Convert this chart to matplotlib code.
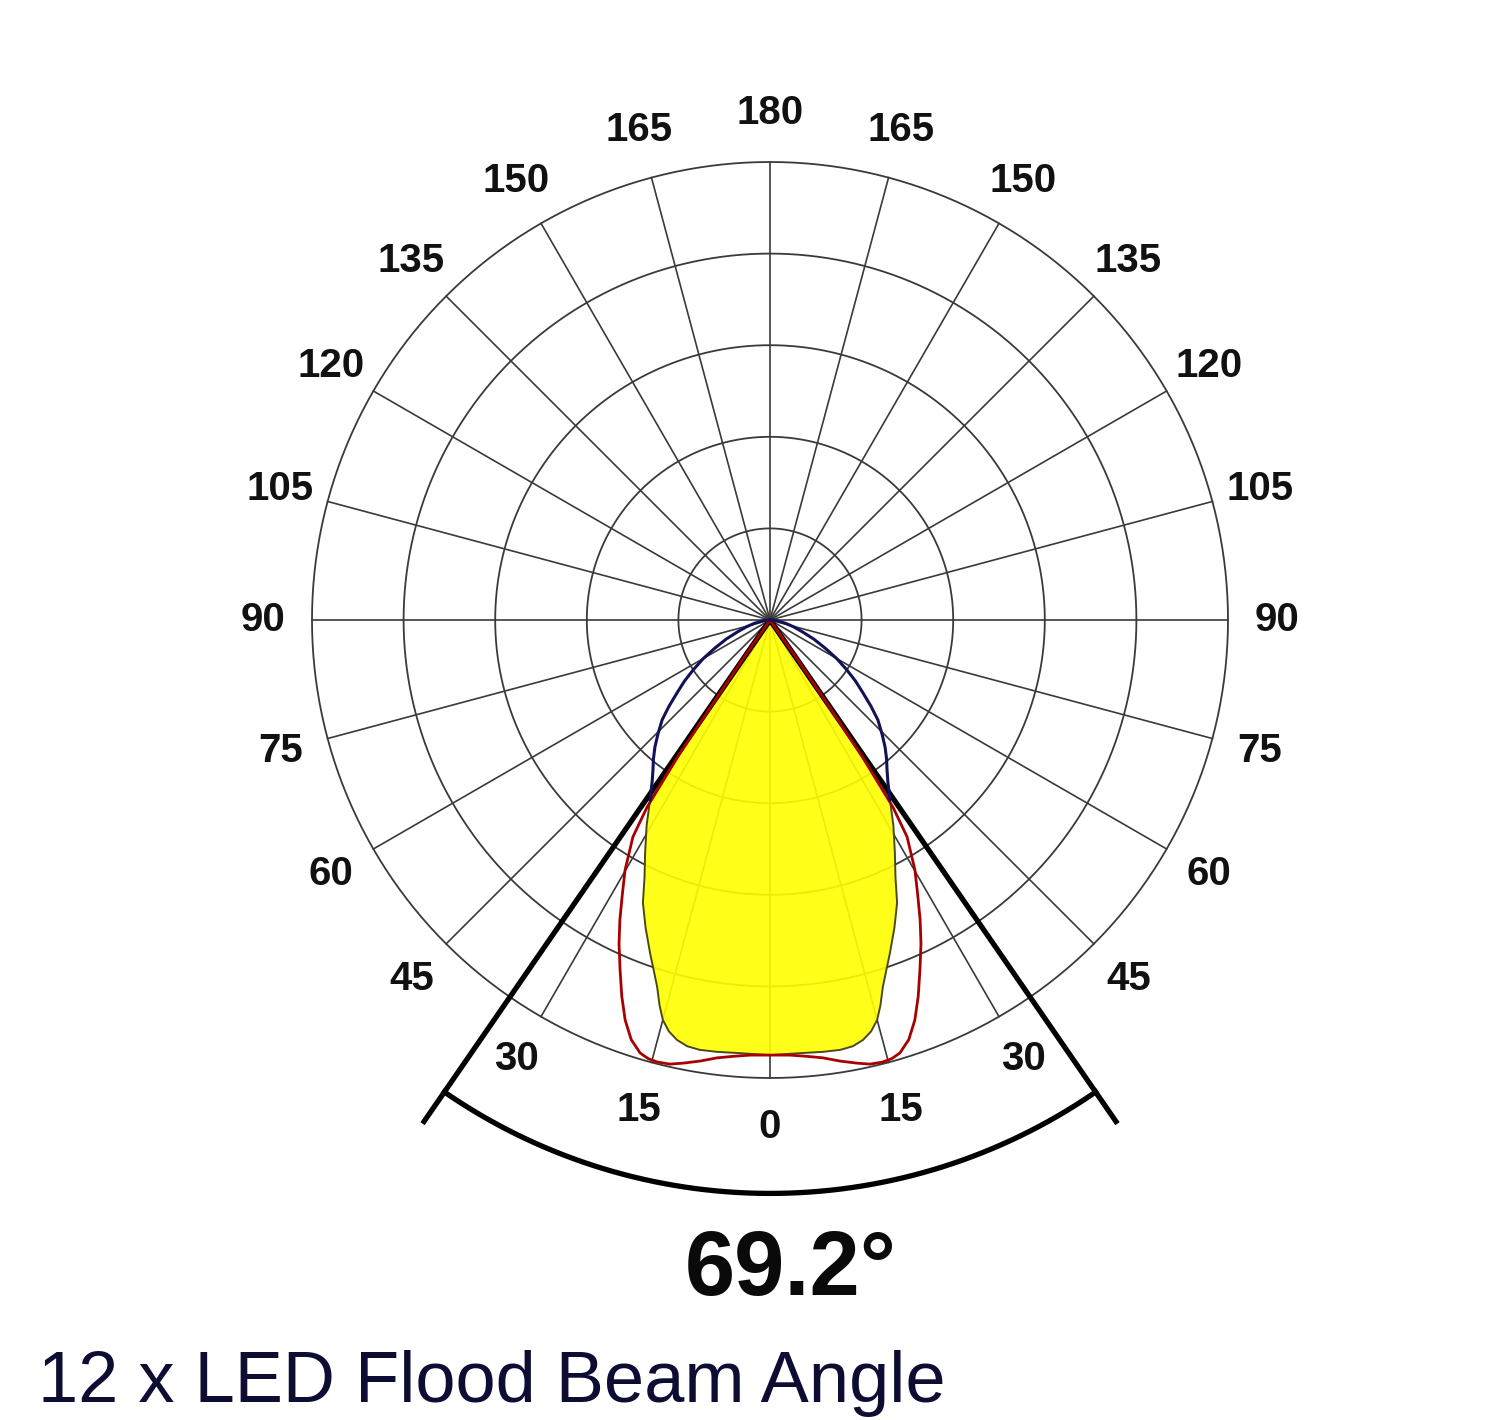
import numpy as np
import matplotlib
matplotlib.use("Agg")
import matplotlib.pyplot as plt

# ---------------- data (relative intensity %, angles in degrees from 0 = down) -------------
ring_levels = [20, 40, 60, 80, 100]
spoke_angles = list(range(0, 360, 15))
tick_angles = [0, 15, 30, 45, 60, 75, 90, 105, 120, 135, 150, 165, 180]

# yellow filled profile (half, mirrored)
fill_theta = [0, 4.0, 7.0, 9.3, 11.0, 12.5, 13.8, 15.0, 16.0, 17.1, 18.4, 19.8, 22.0, 24.2,
              26.0, 28.2, 31.0, 33.7, 34.0, 34.3, 34.8, 35.5]
fill_r = [95.0, 94.8, 95.0, 95.1, 94.8, 93.9, 92.5, 90.4, 87.5, 83.8, 80.5, 77.3, 72.5, 67.7,
          62.5, 57.7, 52.3, 47.2, 36.0, 24.0, 11.0, 0.0]

# red curve (half, mirrored)
red_theta = [0, 2.6, 4.8, 6.9, 9.0, 11.1, 12.7, 14.3, 15.5, 16.7, 18.3, 19.9, 21.5, 23.2,
             25.0, 26.6, 28.3, 30.1, 32.3, 33.3, 34.0, 34.3, 34.8, 35.5]
red_r = [95.0, 95.1, 95.6, 96.3, 97.5, 98.6, 99.4, 99.6, 99.4, 98.7, 96.5, 92.9, 88.3, 83.1,
         78.0, 73.2, 68.0, 63.1, 56.0, 48.9, 36.0, 24.0, 11.0, 0.0]

# blue curve upper bulge (half, mirrored)
blue_theta = [33.7, 36.0, 38.0, 40.0, 42.2, 44.5, 47.2, 49.5, 51.9, 54.5, 57.0, 60.0, 63.0,
              66.5, 70.0, 74.0, 78.0, 84.0, 90.0]
blue_r = [47.2, 43.8, 41.5, 39.6, 37.4, 34.9, 32.1, 29.0, 25.8, 22.9, 20.0, 16.8, 13.5,
          10.4, 7.5, 5.3, 3.5, 1.5, 0.0]

beam_angle = 69.2
beam_label = "69.2°"
title = "12 x LED Flood Beam Angle"


def mirror(th, r):
    th = np.asarray(th, float)
    r = np.asarray(r, float)
    t = np.concatenate([-th[::-1], th[1:]])
    rr = np.concatenate([r[::-1], r[1:]])
    return np.deg2rad(t), rr


fig = plt.figure(figsize=(15, 14.2), dpi=100)
fig.patch.set_facecolor("white")

cx, cy, R = 770, 620, 458
W, H = 1500, 1420
ax = fig.add_axes([(cx - R) / W, (H - cy - R) / H, 2 * R / W, 2 * R / H], projection="polar")
ax.set_theta_zero_location("S")
ax.set_theta_direction(1)
ax.set_ylim(0, 100)
ax.grid(False)
ax.set_xticks([])
ax.set_yticks([])
ax.spines["polar"].set_visible(False)
ax.patch.set_alpha(0)

grid_col = "#3a3a3a"
tt = np.linspace(0, 2 * np.pi, 721)
for rl in ring_levels:
    ax.plot(tt, np.full_like(tt, rl), color=grid_col, lw=1.3, zorder=1, clip_on=False)
for a in spoke_angles:
    ax.plot([np.deg2rad(a)] * 2, [0, 100], color=grid_col, lw=1.2, zorder=1, clip_on=False)

# beam angle lines and arc
half = np.deg2rad(beam_angle / 2)
for s in (-1, 1):
    ax.plot([s * half, s * half], [0, 133.6], color="black", lw=3.8, zorder=4,
            clip_on=False, solid_capstyle="butt")
arc_t = np.linspace(-half, half, 200)
ax.plot(arc_t, np.full_like(arc_t, 125.2), color="black", lw=3.8, zorder=4, clip_on=False)

# yellow fill
ft, fr = mirror(fill_theta, fill_r)
ax.fill(ft, fr, color="#ffff00", alpha=0.9, zorder=3, lw=0)
ax.plot(ft, fr, color="#4a4a12", lw=1.4, zorder=5)

# red curve
rt, rr = mirror(red_theta, red_r)
ax.plot(rt, rr, color="#a80000", lw=2.0, zorder=6)

# blue curve bulges
bt = np.deg2rad(np.asarray(blue_theta))
br = np.asarray(blue_r)
ax.plot(bt, br, color="#121258", lw=2.2, zorder=6)
ax.plot(-bt, br, color="#121258", lw=2.2, zorder=6)

# angle labels
for a in tick_angles:
    sides = [a] if a in (0, 180) else [a, -a]
    for s in sides:
        ax.text(np.deg2rad(s), 110.7, str(a), ha="center", va="center",
                fontsize=29, fontweight="bold", family="Liberation Sans",
                color="#111111", zorder=7)

fig.text(685 / W, 1 - 1295 / H, beam_label, ha="left", va="baseline",
         fontsize=65, fontweight="bold", family="Liberation Sans", color="#0a0a0a")
fig.text(38 / W, 1 - 1402 / H, title, ha="left", va="baseline",
         fontsize=52, family="Liberation Sans", color="#0d0d33")

fig.savefig("out.png", dpi=100, facecolor="white")
